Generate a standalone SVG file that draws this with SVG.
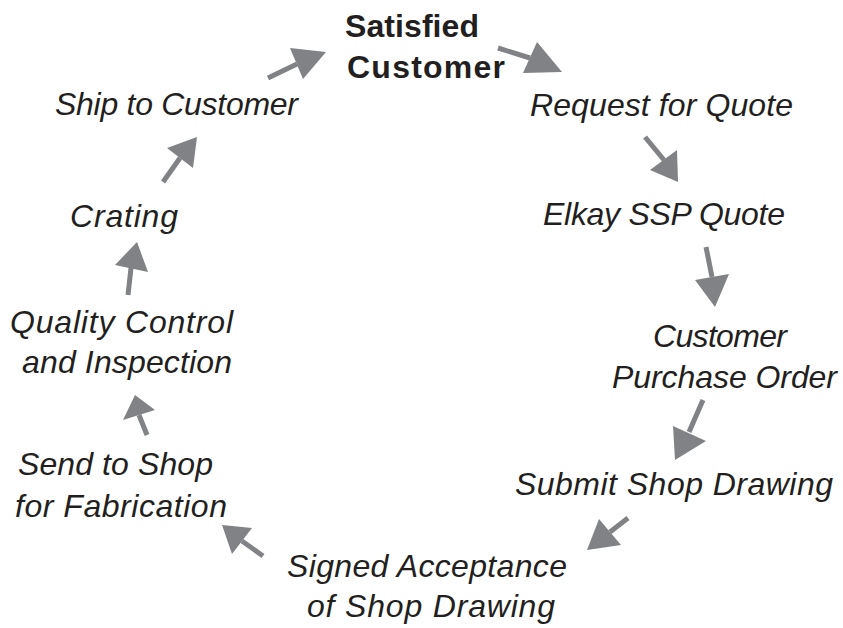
<svg xmlns="http://www.w3.org/2000/svg" width="843" height="628" viewBox="0 0 843 628">
<style>
.t{font-family:"Liberation Sans",Arial,sans-serif;font-size:32px;font-style:italic;fill:#231f20}
.b{font-family:"Liberation Sans",Arial,sans-serif;font-size:32px;font-weight:bold;fill:#231f20}
.sh{stroke:#808285;stroke-width:5;fill:none}
.hd{fill:#808285}
</style>
<rect width="843" height="628" fill="#ffffff"/>
<g id="satisfied"><text class="b" x="345" y="37" textLength="134">Satisfied</text><text class="b" x="347" y="78" textLength="158">Customer</text></g>
<g id="request"><text class="t" x="530" y="116" textLength="263">Request for Quote</text></g>
<g id="elkay"><text class="t" x="543" y="225" textLength="242">Elkay SSP Quote</text></g>
<g id="po"><text class="t" x="653" y="347" textLength="134">Customer</text><text class="t" x="612" y="388" textLength="225">Purchase Order</text></g>
<g id="submit"><text class="t" x="515" y="495" textLength="318">Submit Shop Drawing</text></g>
<g id="signed"><text class="t" x="287" y="577" textLength="280">Signed Acceptance</text><text class="t" x="307" y="617" textLength="248">of Shop Drawing</text></g>
<g id="send"><text class="t" x="18" y="475" textLength="195">Send to Shop</text><text class="t" x="15" y="517" textLength="212">for Fabrication</text></g>
<g id="qc"><text class="t" x="10" y="333" textLength="223">Quality Control</text><text class="t" x="22" y="373" textLength="210">and Inspection</text></g>
<g id="crating"><text class="t" x="70" y="227" textLength="108">Crating</text></g>
<g id="ship"><text class="t" x="55" y="115" textLength="243">Ship to Customer</text></g>
<g id="connectors">
<line class="sh" x1="268" y1="78" x2="297" y2="64"/><polygon class="hd" points="326,52 290,48 303,79"/>
<line class="sh" x1="498" y1="48" x2="530" y2="58"/><polygon class="hd" points="562,72 537,42 523,73"/>
<line class="sh" x1="645" y1="137" x2="664" y2="160"/><polygon class="hd" points="678,182 650,170 677,150"/>
<line class="sh" x1="706" y1="247" x2="712" y2="277"/><polygon class="hd" points="715,307 695,280 729,274"/>
<line class="sh" x1="703" y1="400" x2="689" y2="432"/><polygon class="hd" points="675,460 673,426 706,441"/>
<line class="sh" x1="628" y1="518" x2="610" y2="532"/><polygon class="hd" points="587,550 599,519 621,545"/>
<line class="sh" x1="263" y1="556" x2="242" y2="541"/><polygon class="hd" points="222,525 252,528 232,554"/>
<line class="sh" x1="147" y1="435" x2="139" y2="415"/><polygon class="hd" points="135,395 123,420 155,410"/>
<line class="sh" x1="128" y1="295" x2="131" y2="268"/><polygon class="hd" points="137,242 115,265 148,272"/>
<line class="sh" x1="163" y1="182" x2="180" y2="158"/><polygon class="hd" points="197,137 167,148 193,168"/>
</g>
</svg>
